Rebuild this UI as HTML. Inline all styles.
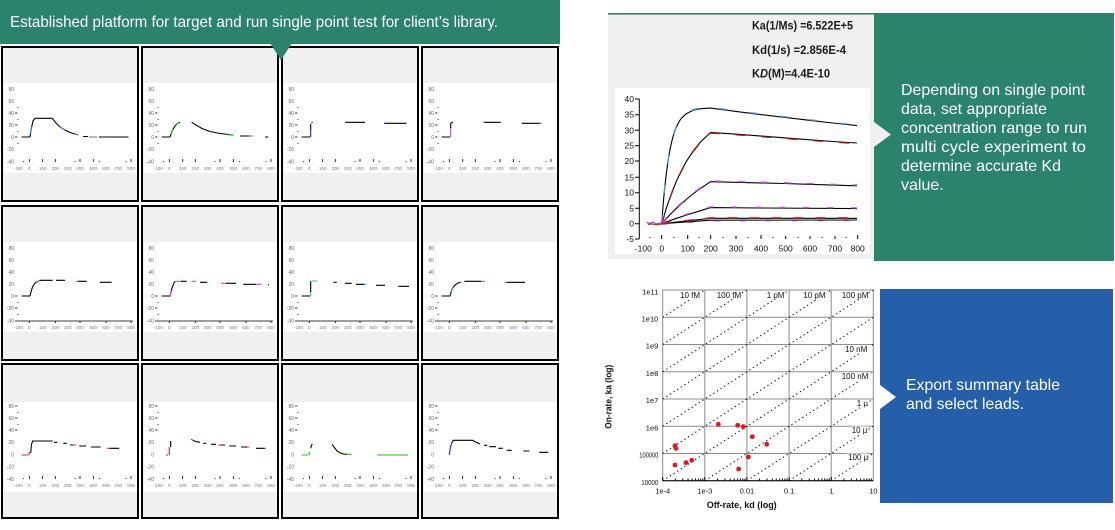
<!DOCTYPE html>
<html><head><meta charset="utf-8"><style>
html,body{margin:0;padding:0;background:#fff;}
svg{display:block;}
.cf{fill:#f0f0f0;stroke:#000;stroke-width:2}
.yl{font-family:"Liberation Sans",Arial,sans-serif;font-size:5px;fill:#6a6a6a;text-anchor:end}
.xl{font-family:"Liberation Sans",Arial,sans-serif;font-size:4.5px;fill:#7a7a92;text-anchor:middle}
.tk{stroke:#000;stroke-width:0.8;fill:none}
.s{fill:none;stroke:#000;stroke-width:1.1}
.f{font-family:"Liberation Sans",Arial,sans-serif}
</style></head><body>
<svg width="1115" height="530" viewBox="0 0 1115 530" xmlns="http://www.w3.org/2000/svg">
<rect width="1115" height="530" fill="#fff"/>

<!-- ===== Grid of small charts ===== -->
<!-- Row 1 -->
<g transform="translate(1,46)">
<rect x="1" y="1" width="136" height="154" class="cf"/><rect x="3" y="37" width="133" height="90" fill="#fff"/>
<text class="yl"><tspan x="13" y="44.8">80</tspan><tspan x="13" y="56.8">60</tspan><tspan x="13" y="68.8">40</tspan><tspan x="13" y="80.8">20</tspan><tspan x="13" y="92.8">0</tspan><tspan x="13" y="105">-20</tspan><tspan x="13" y="117.5">-40</tspan></text>
<text class="xl" y="124"><tspan x="17.3">-100</tspan><tspan x="28.3">0</tspan><tspan x="41.7">100</tspan><tspan x="54.3">200</tspan><tspan x="66.7">300</tspan><tspan x="79">400</tspan><tspan x="92.3">500</tspan><tspan x="105">600</tspan><tspan x="117.3">700</tspan><tspan x="130">800</tspan></text>
<path class="tk" d="M14,67h2.5M14,79h2.5M14,91h2.5M17,61v1M17,73v1M17,85v1M17,97v1M28.3,113v3M41.7,113v3M54.3,113v3M79,113v3M92.3,113v3M130,113v3M22.3,115v1M74,115v1M98.3,115v1M125,115v1"/>
</g>
<g transform="translate(141,46)">
<rect x="1" y="1" width="136" height="154" class="cf"/><rect x="3" y="37" width="133" height="90" fill="#fff"/>
<text class="yl"><tspan x="13" y="44.8">80</tspan><tspan x="13" y="56.8">60</tspan><tspan x="13" y="68.8">40</tspan><tspan x="13" y="80.8">20</tspan><tspan x="13" y="92.8">0</tspan><tspan x="13" y="105">-20</tspan><tspan x="13" y="117.5">-40</tspan></text>
<text class="xl" y="124"><tspan x="17.3">-100</tspan><tspan x="28.3">0</tspan><tspan x="41.7">100</tspan><tspan x="54.3">200</tspan><tspan x="66.7">300</tspan><tspan x="79">400</tspan><tspan x="92.3">500</tspan><tspan x="105">600</tspan><tspan x="117.3">700</tspan><tspan x="130">800</tspan></text>
<path class="tk" d="M14,67h2.5M14,79h2.5M14,91h2.5M17,61v1M17,73v1M17,85v1M17,97v1M28.3,113v3M41.7,113v3M54.3,113v3M79,113v3M92.3,113v3M130,113v3M22.3,115v1M74,115v1M98.3,115v1M125,115v1"/>
</g>
<g transform="translate(281,46)">
<rect x="1" y="1" width="136" height="154" class="cf"/><rect x="3" y="37" width="133" height="90" fill="#fff"/>
<text class="yl"><tspan x="13" y="44.8">80</tspan><tspan x="13" y="56.8">60</tspan><tspan x="13" y="68.8">40</tspan><tspan x="13" y="80.8">20</tspan><tspan x="13" y="92.8">0</tspan><tspan x="13" y="105">-20</tspan><tspan x="13" y="117.5">-40</tspan></text>
<text class="xl" y="124"><tspan x="17.3">-100</tspan><tspan x="28.3">0</tspan><tspan x="41.7">100</tspan><tspan x="54.3">200</tspan><tspan x="66.7">300</tspan><tspan x="79">400</tspan><tspan x="92.3">500</tspan><tspan x="105">600</tspan><tspan x="117.3">700</tspan><tspan x="130">800</tspan></text>
<path class="tk" d="M14,67h2.5M14,79h2.5M14,91h2.5M17,61v1M17,73v1M17,85v1M17,97v1M28.3,113v3M41.7,113v3M54.3,113v3M79,113v3M92.3,113v3M130,113v3M22.3,115v1M74,115v1M98.3,115v1M125,115v1"/>
</g>
<g transform="translate(421,46)">
<rect x="1" y="1" width="136" height="154" class="cf"/><rect x="3" y="37" width="133" height="90" fill="#fff"/>
<text class="yl"><tspan x="13" y="44.8">80</tspan><tspan x="13" y="56.8">60</tspan><tspan x="13" y="68.8">40</tspan><tspan x="13" y="80.8">20</tspan><tspan x="13" y="92.8">0</tspan><tspan x="13" y="105">-20</tspan><tspan x="13" y="117.5">-40</tspan></text>
<text class="xl" y="124"><tspan x="17.3">-100</tspan><tspan x="28.3">0</tspan><tspan x="41.7">100</tspan><tspan x="54.3">200</tspan><tspan x="66.7">300</tspan><tspan x="79">400</tspan><tspan x="92.3">500</tspan><tspan x="105">600</tspan><tspan x="117.3">700</tspan><tspan x="130">800</tspan></text>
<path class="tk" d="M14,67h2.5M14,79h2.5M14,91h2.5M17,61v1M17,73v1M17,85v1M17,97v1M28.3,113v3M41.7,113v3M54.3,113v3M79,113v3M92.3,113v3M130,113v3M22.3,115v1M74,115v1M98.3,115v1M125,115v1"/>
</g>

<!-- Row 2 -->
<g transform="translate(1,205)">
<rect x="1" y="1" width="136" height="154" class="cf"/><rect x="3" y="37" width="133" height="90" fill="#fff"/>
<text class="yl"><tspan x="13" y="44.8">80</tspan><tspan x="13" y="56.8">60</tspan><tspan x="13" y="68.8">40</tspan><tspan x="13" y="80.8">20</tspan><tspan x="13" y="92.8">0</tspan><tspan x="13" y="105">-20</tspan><tspan x="13" y="117.5">-40</tspan></text>
<text class="xl" y="124"><tspan x="17.3">-100</tspan><tspan x="28.3">0</tspan><tspan x="41.7">100</tspan><tspan x="54.3">200</tspan><tspan x="66.7">300</tspan><tspan x="79">400</tspan><tspan x="92.3">500</tspan><tspan x="105">600</tspan><tspan x="117.3">700</tspan><tspan x="130">800</tspan></text>
<path class="tk" d="M14,91h2.5M14,103h2.5M14,116h2.5M15,116H132M17,97v1M17,109v1M28.3,116v2M54.3,116v2M79,116v2M105,116v2M130,116v2"/>
</g>
<g transform="translate(141,205)">
<rect x="1" y="1" width="136" height="154" class="cf"/><rect x="3" y="37" width="133" height="90" fill="#fff"/>
<text class="yl"><tspan x="13" y="44.8">80</tspan><tspan x="13" y="56.8">60</tspan><tspan x="13" y="68.8">40</tspan><tspan x="13" y="80.8">20</tspan><tspan x="13" y="92.8">0</tspan><tspan x="13" y="105">-20</tspan><tspan x="13" y="117.5">-40</tspan></text>
<text class="xl" y="124"><tspan x="17.3">-100</tspan><tspan x="28.3">0</tspan><tspan x="41.7">100</tspan><tspan x="54.3">200</tspan><tspan x="66.7">300</tspan><tspan x="79">400</tspan><tspan x="92.3">500</tspan><tspan x="105">600</tspan><tspan x="117.3">700</tspan><tspan x="130">800</tspan></text>
<path class="tk" d="M14,91h2.5M14,103h2.5M14,116h2.5M15,116H132M17,97v1M17,109v1M28.3,116v2M54.3,116v2M79,116v2M105,116v2M130,116v2"/>
</g>
<g transform="translate(281,205)">
<rect x="1" y="1" width="136" height="154" class="cf"/><rect x="3" y="37" width="133" height="90" fill="#fff"/>
<text class="yl"><tspan x="13" y="44.8">80</tspan><tspan x="13" y="56.8">60</tspan><tspan x="13" y="68.8">40</tspan><tspan x="13" y="80.8">20</tspan><tspan x="13" y="92.8">0</tspan><tspan x="13" y="105">-20</tspan><tspan x="13" y="117.5">-40</tspan></text>
<text class="xl" y="124"><tspan x="17.3">-100</tspan><tspan x="28.3">0</tspan><tspan x="41.7">100</tspan><tspan x="54.3">200</tspan><tspan x="66.7">300</tspan><tspan x="79">400</tspan><tspan x="92.3">500</tspan><tspan x="105">600</tspan><tspan x="117.3">700</tspan><tspan x="130">800</tspan></text>
<path class="tk" d="M14,91h2.5M14,103h2.5M14,116h2.5M15,116H132M17,97v1M17,109v1M28.3,116v2M54.3,116v2M79,116v2M105,116v2M130,116v2"/>
</g>
<g transform="translate(421,205)">
<rect x="1" y="1" width="136" height="154" class="cf"/><rect x="3" y="37" width="133" height="90" fill="#fff"/>
<text class="yl"><tspan x="13" y="44.8">80</tspan><tspan x="13" y="56.8">60</tspan><tspan x="13" y="68.8">40</tspan><tspan x="13" y="80.8">20</tspan><tspan x="13" y="92.8">0</tspan><tspan x="13" y="105">-20</tspan><tspan x="13" y="117.5">-40</tspan></text>
<text class="xl" y="124"><tspan x="17.3">-100</tspan><tspan x="28.3">0</tspan><tspan x="41.7">100</tspan><tspan x="54.3">200</tspan><tspan x="66.7">300</tspan><tspan x="79">400</tspan><tspan x="92.3">500</tspan><tspan x="105">600</tspan><tspan x="117.3">700</tspan><tspan x="130">800</tspan></text>
<path class="tk" d="M14,91h2.5M14,103h2.5M14,116h2.5M15,116H132M17,97v1M17,109v1M28.3,116v2M54.3,116v2M79,116v2M105,116v2M130,116v2"/>
</g>

<!-- Row 3 -->
<g transform="translate(1,363)">
<rect x="1" y="1" width="136" height="154" class="cf"/><rect x="3" y="39" width="133" height="90" fill="#fff"/>
<text class="yl"><tspan x="13" y="44.8">80</tspan><tspan x="13" y="56.8">60</tspan><tspan x="13" y="68.8">40</tspan><tspan x="13" y="80.8">20</tspan><tspan x="13" y="93.5">0</tspan><tspan x="13" y="105.5">-20</tspan><tspan x="13" y="117.8">-40</tspan></text>
<text class="xl" y="124"><tspan x="17.3">-100</tspan><tspan x="28.3">0</tspan><tspan x="41.7">100</tspan><tspan x="54.3">200</tspan><tspan x="66.7">300</tspan><tspan x="79">400</tspan><tspan x="92.3">500</tspan><tspan x="105">600</tspan><tspan x="117.3">700</tspan><tspan x="130">800</tspan></text>
<path class="tk" d="M14,43h2.5M14,55h2.5M14,67h2.5M17,49v1M17,61v1M28.3,113v3M41.7,113v3M54.3,113v3M79,113v3M92.3,113v3M130,113v3M22.3,115v1M74,115v1M98.3,115v1M125,115v1"/>
</g>
<g transform="translate(141,363)">
<rect x="1" y="1" width="136" height="154" class="cf"/><rect x="3" y="39" width="133" height="90" fill="#fff"/>
<text class="yl"><tspan x="13" y="44.8">80</tspan><tspan x="13" y="56.8">60</tspan><tspan x="13" y="68.8">40</tspan><tspan x="13" y="80.8">20</tspan><tspan x="13" y="93.5">0</tspan><tspan x="13" y="105.5">-20</tspan><tspan x="13" y="117.8">-40</tspan></text>
<text class="xl" y="124"><tspan x="17.3">-100</tspan><tspan x="28.3">0</tspan><tspan x="41.7">100</tspan><tspan x="54.3">200</tspan><tspan x="66.7">300</tspan><tspan x="79">400</tspan><tspan x="92.3">500</tspan><tspan x="105">600</tspan><tspan x="117.3">700</tspan><tspan x="130">800</tspan></text>
<path class="tk" d="M14,43h2.5M14,55h2.5M14,67h2.5M17,49v1M17,61v1M28.3,113v3M41.7,113v3M54.3,113v3M79,113v3M92.3,113v3M130,113v3M22.3,115v1M74,115v1M98.3,115v1M125,115v1"/>
</g>
<g transform="translate(281,363)">
<rect x="1" y="1" width="136" height="154" class="cf"/><rect x="3" y="39" width="133" height="90" fill="#fff"/>
<text class="yl"><tspan x="13" y="44.8">80</tspan><tspan x="13" y="56.8">60</tspan><tspan x="13" y="68.8">40</tspan><tspan x="13" y="80.8">20</tspan><tspan x="13" y="93.5">0</tspan><tspan x="13" y="105.5">-20</tspan><tspan x="13" y="117.8">-40</tspan></text>
<text class="xl" y="124"><tspan x="17.3">-100</tspan><tspan x="28.3">0</tspan><tspan x="41.7">100</tspan><tspan x="54.3">200</tspan><tspan x="66.7">300</tspan><tspan x="79">400</tspan><tspan x="92.3">500</tspan><tspan x="105">600</tspan><tspan x="117.3">700</tspan><tspan x="130">800</tspan></text>
<path class="tk" d="M14,43h2.5M14,55h2.5M14,67h2.5M17,49v1M17,61v1M28.3,113v3M41.7,113v3M54.3,113v3M79,113v3M92.3,113v3M130,113v3M22.3,115v1M74,115v1M98.3,115v1M125,115v1"/>
</g>
<g transform="translate(421,363)">
<rect x="1" y="1" width="136" height="154" class="cf"/><rect x="3" y="39" width="133" height="90" fill="#fff"/>
<text class="yl"><tspan x="13" y="44.8">80</tspan><tspan x="13" y="56.8">60</tspan><tspan x="13" y="68.8">40</tspan><tspan x="13" y="80.8">20</tspan><tspan x="13" y="93.5">0</tspan><tspan x="13" y="105.5">-20</tspan><tspan x="13" y="117.8">-40</tspan></text>
<text class="xl" y="124"><tspan x="17.3">-100</tspan><tspan x="28.3">0</tspan><tspan x="41.7">100</tspan><tspan x="54.3">200</tspan><tspan x="66.7">300</tspan><tspan x="79">400</tspan><tspan x="92.3">500</tspan><tspan x="105">600</tspan><tspan x="117.3">700</tspan><tspan x="130">800</tspan></text>
<path class="tk" d="M14,43h2.5M14,55h2.5M14,67h2.5M17,49v1M17,61v1M28.3,113v3M41.7,113v3M54.3,113v3M79,113v3M92.3,113v3M130,113v3M22.3,115v1M74,115v1M98.3,115v1M125,115v1"/>
</g>

<!-- series in small charts -->
<path class="s" d="M21.7,137H30M30,137L31,130L33,121L35,118.3H52.3L56,123L60,127L65,130L70,132.5L78.3,135M83,136.5H88M99,137H128.5"/>
<path class="s" stroke="#4a7bd8" style="stroke:#4a7bd8" d="M30.5,134L31.5,127M60,127L65,130M75,134L78.3,135M89,137H97"/>
<path class="s" d="M161.7,137H170M170,137L172,131L175,126L178,123L180,122.3M191.7,122.3L196,125L202,128.5L210,131.5L220,133.5L233.3,135M240,136H249M265,137H268.3"/>
<path class="s" style="stroke:#22b022" d="M171,134L173,129M176,124.5L179,122.6M249,136H253.3M228,134.8H233.3"/>
<path class="s" d="M301.7,137H310M310.7,130V124M311.5,123L312.5,122M346,122.3H365M385,123.3H406"/>
<path class="s" style="stroke:#1a1aff" d="M310.7,137V130M345,122.3H346.5M384,123.3H385.5M405.5,123.3H406.7"/>
<path class="s" d="M441.7,137H450M450.7,128V123M451,123L453,122M483.3,122.3H500.7M521.7,123.3H540"/>
<path class="s" style="stroke:#d040d0" d="M450.7,137V128M540,123.3H541.7M483.3,122.3H485"/>

<path class="s" d="M21.7,296H30M30,296L31,292L32.5,287L35,283L38,281.3L40.7,280.3H52.7M56,280.3H65M78,281.3H86.7M100,282.3H111.7"/>
<path class="s" style="stroke:#e040e0" d="M36,282L40,280.6M76,281.3H78"/>
<path class="s" d="M161.7,296H170L172,288L174,283L175,281.3M181,281.3H186.7M200,282.3H207.3M226,283.3H236M243.3,284.3H256M268,284.7H269"/>
<path class="s" style="stroke:#e040e0" d="M175,281.3H181M191.7,281.3H196M221,283.3H226M256,284.3H261.7M170,296L171.5,291"/>
<path class="s" d="M301.7,296H310M310.7,292V281M334,282.3H336.7M345,283.3H351.7M356,284.3H364M376,285.3H385M398.3,286.3H409"/>
<path class="s" style="stroke:#20c0d0" d="M310.7,296V292M311.7,281H317.3M332.7,282.3H334M364,284.3H366.7"/>
<path class="s" d="M441.7,296H450L452,289L455,285L458,283L460,282.3M464.3,281.3H481M507,282.3H525"/>
<path class="s" style="stroke:#5080e0" d="M460,282.3H462M481,281.3H485M504.3,282.3H507M451,292L453,287"/>

<path class="s" style="stroke:#e02020" d="M21.7,455H28.3M29,455L29.3,452M73,445H76M107.3,448.3H110"/>
<path class="s" d="M30.7,453L31.5,444L32.3,442.3L32.7,441H52.7M54,442.3H57.3M63.3,443.3H66.7M70,445H73M79.3,446H86M91,447H100.7M110,448.3H119.3"/>
<path class="s" style="stroke:#e02020" d="M166,455H168.3M169.3,455V447M191,439.3L193,440.3M218.3,445H221M247,447H249.3M264,448.3H266"/>
<path class="s" d="M170.7,447V441M193,440.3L195,441.3L200,442.3M203.3,443.3H206M211,444.3H216M221,445H225M229.3,446H236M241,447H247M256,448.3H264"/>
<path class="s" style="stroke:#20c020" d="M301.7,455H308.3M309.3,455V451.7M346.7,454.3H351.7M377.3,455H408.3"/>
<path class="s" d="M310.7,448.3L311.5,445L312.5,444.3M332.3,444.3L334,447L337,451L340,452.7L343.3,454L346.7,454.3"/>
<path class="s" style="stroke:#1a1ae0" d="M449.3,455L450.5,447L451.7,443"/>
<path class="s" d="M451.7,443L453.3,440.3H472.7L476,442.3L480,444M484,445.3H487.3M489.3,446.7H496M498.3,448.3H502.7M506.7,450.3H511.7M523.3,451H529.3M539.3,452.3H548.3"/>

<!-- Header banner -->
<rect x="0" y="0" width="560" height="44" fill="#2b836b"/>
<polygon points="270,43 292,43 281,60" fill="#2b836b"/>
<text class="f" x="10" y="27" font-size="16" fill="#fff" textLength="488" lengthAdjust="spacingAndGlyphs">Established platform for target and run single point test for client’s library.</text>

<!-- ===== Top-right kinetics chart ===== -->
<rect x="608" y="13" width="266" height="246" fill="#f0f0f0"/>
<rect x="608" y="13" width="266" height="1.6" fill="#2b836b"/>
<rect x="615" y="88" width="255" height="166" fill="#fff"/>
<g class="f" font-weight="bold" font-size="11.5" fill="#1a1a1a">
<text x="752" y="29.5" textLength="101" lengthAdjust="spacingAndGlyphs">Ka(1/Ms) =6.522E+5</text>
<text x="752" y="54" textLength="94" lengthAdjust="spacingAndGlyphs">Kd(1/s) =2.856E-4</text>
<text x="752" y="77.5" textLength="78" lengthAdjust="spacingAndGlyphs">K<tspan font-style="italic">D</tspan>(M)=4.4E-10</text>
</g>
<g class="f" font-size="8.5" fill="#111">
<text text-anchor="end"><tspan x="634" y="102">40</tspan><tspan x="634" y="117.7">35</tspan><tspan x="634" y="133.3">30</tspan><tspan x="634" y="148.7">25</tspan><tspan x="634" y="164">20</tspan><tspan x="634" y="180.3">15</tspan><tspan x="634" y="195.7">10</tspan><tspan x="634" y="211.3">5</tspan><tspan x="634" y="226.7">0</tspan><tspan x="634" y="242">-5</tspan></text>
<text text-anchor="middle" y="251.5"><tspan x="643.3">-100</tspan><tspan x="661.7">0</tspan><tspan x="687.7">100</tspan><tspan x="710.7">200</tspan><tspan x="736">300</tspan><tspan x="761">400</tspan><tspan x="785.7">500</tspan><tspan x="810">600</tspan><tspan x="835">700</tspan><tspan x="857.7">800</tspan></text>
</g>
<path stroke="#000" stroke-width="1" fill="none" d="M639.3,99V239M635,99h4.3M635,114.7h4.3M635,130.3h4.3M635,145.7h4.3M635,161h4.3M635,177.3h4.3M635,192.7h4.3M635,208.3h4.3M635,223.7h4.3M635,239h4.3M661.7,235v4M687.7,235v4M710.7,235v4M736,236v3M761,235v4M785.7,236v3M810,236v3M835,236v3M857.7,235v4M650,237v1M674,237v1M699,237v1M723,237v1M748,237v1M773,237v1M798,237v1M822,237v1M846,237v1"/>
<!-- pre-injection noise -->
<path fill="none" stroke-width="1.3" stroke="#8a4fc0" d="M646.7,222.5L650,223.5L653,222.2L656,224L661,223"/>
<path fill="none" stroke-width="1.1" stroke="#c02020" d="M648,224.5L652,224L657,225L661.7,224"/>
<!-- fits -->
<path class="s" stroke-width="1.2" d="M661.7,223.7L662.9,207.6L664.1,193.7L665.4,181.7L666.6,171.5L667.8,162.5L669.0,155.1L670.7,146.1L672.7,137.8L674.4,132.2L676.4,127.0L678.8,122.0L681.3,118.3L686.2,113.7L693.5,110.1L700.8,108.7L710.6,108.1L735.05,111.3L759.5,114.4L784.0,117.3L808.4,120.2L832.9,123.0L857,125.6"/>
<path class="s" stroke-width="1.2" d="M661.7,223.7L666.6,207.4L671.5,193.3L676.4,181.2L681.3,170.7L686.2,161.7L693.5,150.6L700.8,141.6L710.6,132.5L735.05,134.1L759.5,135.9L784.0,137.8L808.4,139.7L832.9,141.5L857,143.0"/>
<path class="s" stroke-width="1.2" d="M661.7,223.7L666.6,218.3L671.5,213.1L676.4,208.3L681.3,203.8L686.2,199.5L693.5,193.5L700.8,188.2L710.6,181.7L735.05,182.3L759.5,182.9L784,183.5L808.4,184.3L832.9,185.1L857,185.8"/>
<path class="s" stroke-width="1.2" d="M661.7,223.7L673.9,219.2L686.2,215.1L698.4,211.3L710.6,207.6L760,208L857,208.6"/>
<path class="s" stroke-width="1.2" d="M661.7,223.7L686,221L710.6,218.3L857,218.3"/>
<path class="s" stroke-width="1.2" d="M661.7,223.7L710.6,220.2L857,220"/>
<!-- data overlays -->
<path fill="none" stroke="#5b8ee0" stroke-width="1.3" stroke-dasharray="8 22" transform="translate(0,-0.6)" d="M661.7,223.7L662.9,207.6L664.1,193.7L665.4,181.7L666.6,171.5L667.8,162.5L669.0,155.1L670.7,146.1L672.7,137.8L674.4,132.2L676.4,127.0L678.8,122.0L681.3,118.3L686.2,113.7L693.5,110.1L700.8,108.7L710.6,108.1L735.05,111.3L759.5,114.4L784.0,117.3L808.4,120.2L832.9,123.0L857,125.6"/>
<path fill="none" stroke="#9b1c1c" stroke-width="1.3" stroke-dasharray="10 16" transform="translate(0,0.6)" d="M661.7,223.7L666.6,207.4L671.5,193.3L676.4,181.2L681.3,170.7L686.2,161.7L693.5,150.6L700.8,141.6L710.6,132.5L735.05,134.1L759.5,135.9L784.0,137.8L808.4,139.7L832.9,141.5L857,143.0"/>
<path fill="none" stroke="#c34fd0" stroke-width="1.4" stroke-dasharray="7 16" transform="translate(0,-0.7)" d="M661.7,223.7L666.6,218.3L671.5,213.1L676.4,208.3L681.3,203.8L686.2,199.5L693.5,193.5L700.8,188.2L710.6,181.7L735.05,182.3L759.5,182.9L784,183.5L808.4,184.3L832.9,185.1L857,185.8"/>
<path fill="none" stroke="#c34fd0" stroke-width="1.3" stroke-dasharray="6 18" transform="translate(0,-0.7)" d="M661.7,223.7L673.9,219.2L686.2,215.1L698.4,211.3L710.6,207.6L760,208L857,208.6"/>
<path fill="none" stroke="#c02020" stroke-width="1.3" stroke-dasharray="10 12" transform="translate(0,-0.5)" d="M661.7,223.7L686,221L710.6,218.3L857,218.3"/>
<path fill="none" stroke="#7a3fb0" stroke-width="1.1" stroke-dasharray="6 20" transform="translate(0,0.6)" d="M661.7,223.7L710.6,220.2L857,220"/>

<!-- Green text box -->
<rect x="874" y="13" width="240" height="248" fill="#2b836b"/>
<polygon points="874,122 891,134.5 874,147" fill="#f0f0f0"/>
<g class="f" font-size="16" fill="#fff">
<text x="901" y="95" textLength="184" lengthAdjust="spacingAndGlyphs">Depending on single point</text>
<text x="901" y="114" textLength="146" lengthAdjust="spacingAndGlyphs">data, set appropriate</text>
<text x="901" y="133" textLength="186" lengthAdjust="spacingAndGlyphs">concentration range to run</text>
<text x="901" y="152" textLength="185" lengthAdjust="spacingAndGlyphs">multi cycle experiment to</text>
<text x="901" y="171" textLength="160" lengthAdjust="spacingAndGlyphs">determine accurate Kd</text>
<text x="901" y="190">value.</text>
</g>

<!-- ===== Bottom-right log-log chart ===== -->
<g stroke="#8c8c8c" stroke-width="1" fill="none">
<path d="M704.8,290V480.7M746.9,290V480.7M789.1,290V480.7M831.2,290V480.7M662.7,317.3H873.3M662.7,344.5H873.3M662.7,371.8H873.3M662.7,399H873.3M662.7,426.2H873.3M662.7,453.5H873.3"/>
<rect x="662.7" y="290" width="210.6" height="190.7"/>
</g>
<g stroke="#000" stroke-width="1" stroke-dasharray="1.3 3" fill="none">
<path d="M662.7,317.3L704.8,290M662.7,344.5L746.9,290M662.7,371.8L789.1,290M662.7,399L831.2,290M662.7,426.2L873.3,290M662.7,453.5L873.3,317.3M662.7,480.7L873.3,344.5M704.8,480.7L873.3,371.8M746.9,480.7L873.3,399M789.1,480.7L873.3,426.2M831.2,480.7L873.3,453.5"/>
</g>
<path stroke="#000" stroke-width="1" fill="none" d="M662.7,480.7H873.3M675.4,478.5v2M682.8,478.5v2M688.1,478.5v2M692.1,478.5v2M695.5,478.5v2M698.3,478.5v2M700.7,478.5v2M702.9,478.5v2M717.5,478.5v2M724.9,478.5v2M730.2,478.5v2M734.2,478.5v2M737.6,478.5v2M740.4,478.5v2M742.8,478.5v2M745,478.5v2M759.6,478.5v2M767,478.5v2M772.3,478.5v2M776.3,478.5v2M779.7,478.5v2M782.5,478.5v2M784.9,478.5v2M787.1,478.5v2M801.8,478.5v2M809.2,478.5v2M814.5,478.5v2M818.5,478.5v2M821.9,478.5v2M824.7,478.5v2M827.1,478.5v2M829.3,478.5v2M843.9,478.5v2M851.3,478.5v2M856.6,478.5v2M860.6,478.5v2M864,478.5v2M866.8,478.5v2M869.2,478.5v2M871.4,478.5v2M662.7,477v3.7M704.8,477v3.7M746.9,477v3.7M789.1,477v3.7M831.2,477v3.7"/>
<!-- label backgrounds -->
<g fill="#fff">
<rect x="679" y="291" width="22" height="8"/><rect x="715.5" y="291" width="26" height="8"/><rect x="765.5" y="291" width="20" height="8"/><rect x="802" y="291" width="24" height="8"/><rect x="840.5" y="291" width="27" height="8"/>
<rect x="844" y="345" width="28" height="8"/><rect x="840.5" y="372.5" width="31" height="8"/><rect x="855.5" y="399.5" width="14" height="8"/><rect x="850.5" y="426.5" width="18" height="8"/><rect x="847" y="453.5" width="21" height="8"/>
</g>
<g class="f" font-size="8" fill="#111">
<text x="680" y="298">10 fM</text><text x="716.7" y="298">100 fM</text><text x="766.7" y="298">1 pM</text><text x="803.3" y="298">10 pM</text><text x="841.7" y="298">100 pM</text>
<text x="845" y="352">10 nM</text><text x="841.7" y="379">100 nM</text><text x="856.7" y="406">1 µ</text><text x="851.7" y="433">10 µ</text><text x="848" y="460">100 µ</text>
</g>
<g class="f" font-size="7.5" fill="#111" text-anchor="end">
<text x="658.3" y="294.3">1e11</text><text x="658.3" y="321.5">1e10</text><text x="658.3" y="348.7">1e9</text><text x="658.3" y="376">1e8</text><text x="658.3" y="403.2">1e7</text><text x="658.3" y="430.4">1e6</text><text x="658.3" y="457.7" textLength="19" lengthAdjust="spacingAndGlyphs">100000</text><text x="658.3" y="484.9" textLength="17" lengthAdjust="spacingAndGlyphs">10000</text>
</g>
<g class="f" font-size="7.5" fill="#111" text-anchor="middle">
<text x="662.7" y="493.7">1e-4</text><text x="704.8" y="493.7">1e-3</text><text x="746.9" y="493.7">0.01</text><text x="789.1" y="493.7">0.1</text><text x="831.2" y="493.7">1</text><text x="873.3" y="493.7">10</text>
</g>
<text class="f" x="741.7" y="508" font-size="9" font-weight="bold" fill="#111" text-anchor="middle">Off-rate, kd (log)</text>
<text class="f" x="0" y="0" font-size="9" font-weight="bold" fill="#111" text-anchor="middle" transform="translate(611.5,396.7) rotate(-90)" textLength="64" lengthAdjust="spacingAndGlyphs">On-rate, ka (log)</text>
<g fill="#e8131b">
<circle cx="718.3" cy="424.3" r="2.4"/><circle cx="737.7" cy="425.3" r="2.4"/><circle cx="743.3" cy="426.7" r="2.4"/><circle cx="752.3" cy="436.7" r="2.4"/><circle cx="766.7" cy="444.3" r="2.4"/><circle cx="675" cy="445.7" r="2.4"/><circle cx="676" cy="448.3" r="2.4"/><circle cx="748.3" cy="457" r="2.4"/><circle cx="691.7" cy="460.3" r="2.4"/><circle cx="686" cy="462.7" r="2.4"/><circle cx="675" cy="465" r="2.4"/><circle cx="738.7" cy="469" r="2.4"/>
</g>

<!-- Blue text box -->
<rect x="880" y="289" width="233" height="214" fill="#255ea9"/>
<polygon points="880,385 896,397 880,409" fill="#fff"/>
<g class="f" font-size="16" fill="#fff">
<text x="906" y="390" textLength="154" lengthAdjust="spacingAndGlyphs">Export summary table</text>
<text x="906" y="409" textLength="118" lengthAdjust="spacingAndGlyphs">and select leads.</text>
</g>
</svg>
</body></html>
